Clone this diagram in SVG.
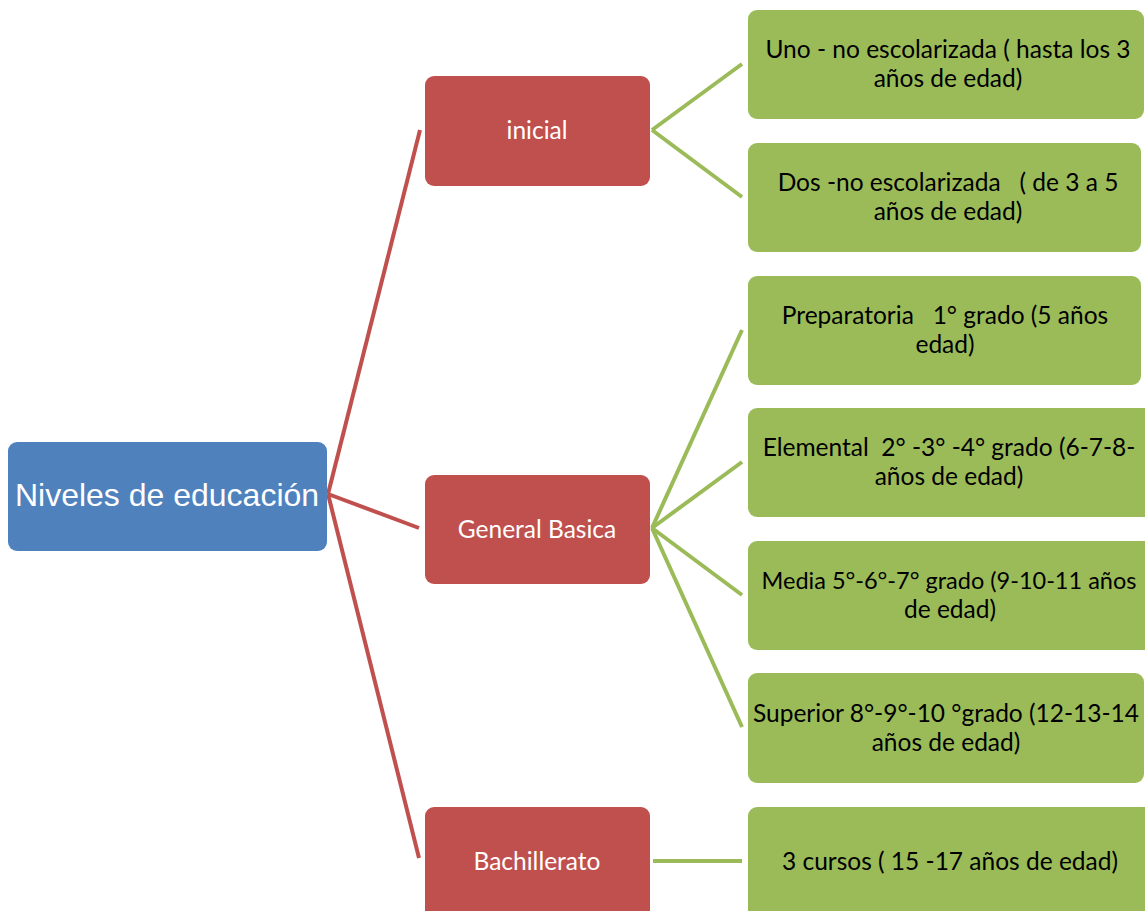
<svg xmlns="http://www.w3.org/2000/svg" width="1145" height="911" viewBox="0 0 1145 911">
<style>
.root{fill:#4F81BD}
.red{fill:#C0504D}
.grn{fill:#9BBB59}
.rl{stroke:#C0504D;stroke-width:4;fill:none}
.gl{stroke:#9BBB59;stroke-width:4;fill:none}
.rt{font-family:"Liberation Sans",Arial,sans-serif;font-size:32px;fill:#fff;text-anchor:middle}
.wt{font-family:Lato,"Open Sans",sans-serif;font-size:24.5px;fill:#fff;text-anchor:middle}
.bt{font-family:Lato,"Open Sans",sans-serif;font-size:24.5px;fill:#000;text-anchor:middle;white-space:pre}
</style>
<rect width="1145" height="911" fill="#fff"/>
<g id="connectors">
<line class="rl" x1="328" y1="494" x2="420" y2="130"/>
<line class="rl" x1="328" y1="494" x2="419" y2="528"/>
<line class="rl" x1="328" y1="494" x2="419" y2="858"/>
<line class="gl" x1="652" y1="130" x2="742" y2="64"/>
<line class="gl" x1="652" y1="130" x2="742" y2="197"/>
<line class="gl" x1="652" y1="528" x2="742" y2="330"/>
<line class="gl" x1="652" y1="528" x2="742" y2="462"/>
<line class="gl" x1="652" y1="528" x2="742" y2="595"/>
<line class="gl" x1="652" y1="528" x2="742" y2="727"/>
<line class="gl" x1="653" y1="861" x2="742" y2="861"/>
</g>
<g id="root"><rect class="root" x="8" y="442" width="319" height="109" rx="9"/><text class="rt" x="167" y="506">Niveles de educación</text></g>
<g id="inicial"><rect class="red" x="425" y="76" width="225" height="110" rx="9"/><text class="wt" x="537" y="139">inicial</text></g>
<g id="general"><rect class="red" x="425" y="475" width="225" height="109" rx="9"/><text class="wt" x="537" y="538">General Basica</text></g>
<g id="bach"><rect class="red" x="425" y="807" width="225" height="115" rx="9"/><text class="wt" x="537" y="870">Bachillerato</text></g>
<g id="g1"><rect class="grn" x="748" y="10" width="396" height="109" rx="9"/><text class="bt" x="948" y="58">Uno - no escolarizada ( hasta los 3</text><text class="bt" x="948" y="87">años de edad)</text></g>
<g id="g2"><rect class="grn" x="748" y="143" width="393" height="109" rx="9"/><text class="bt" x="948" y="191">Dos -no escolarizada   ( de 3 a 5</text><text class="bt" x="948" y="220">años de edad)</text></g>
<g id="g3"><rect class="grn" x="748" y="276" width="393" height="109" rx="9"/><text class="bt" x="945" y="324">Preparatoria   1° grado (5 años</text><text class="bt" x="945" y="353">edad)</text></g>
<g id="g4"><rect class="grn" x="748" y="408" width="410" height="109" rx="9"/><text class="bt" x="949" y="456">Elemental  2° -3° -4° grado (6-7-8-</text><text class="bt" x="949" y="485">años de edad)</text></g>
<g id="g5"><rect class="grn" x="748" y="541" width="410" height="109" rx="9"/><text class="bt" x="949" y="589" style="font-size:23.5px">Media 5°-6°-7° grado (9-10-11 años</text><text class="bt" x="950" y="618">de edad)</text></g>
<g id="g6"><rect class="grn" x="748" y="673" width="396" height="110" rx="9"/><text class="bt" x="946" y="722">Superior 8°-9°-10 °grado (12-13-14</text><text class="bt" x="946" y="751">años de edad)</text></g>
<g id="g7"><rect class="grn" x="748" y="807" width="410" height="115" rx="9"/><text class="bt" x="950" y="870">3 cursos ( 15 -17 años de edad)</text></g>
</svg>
